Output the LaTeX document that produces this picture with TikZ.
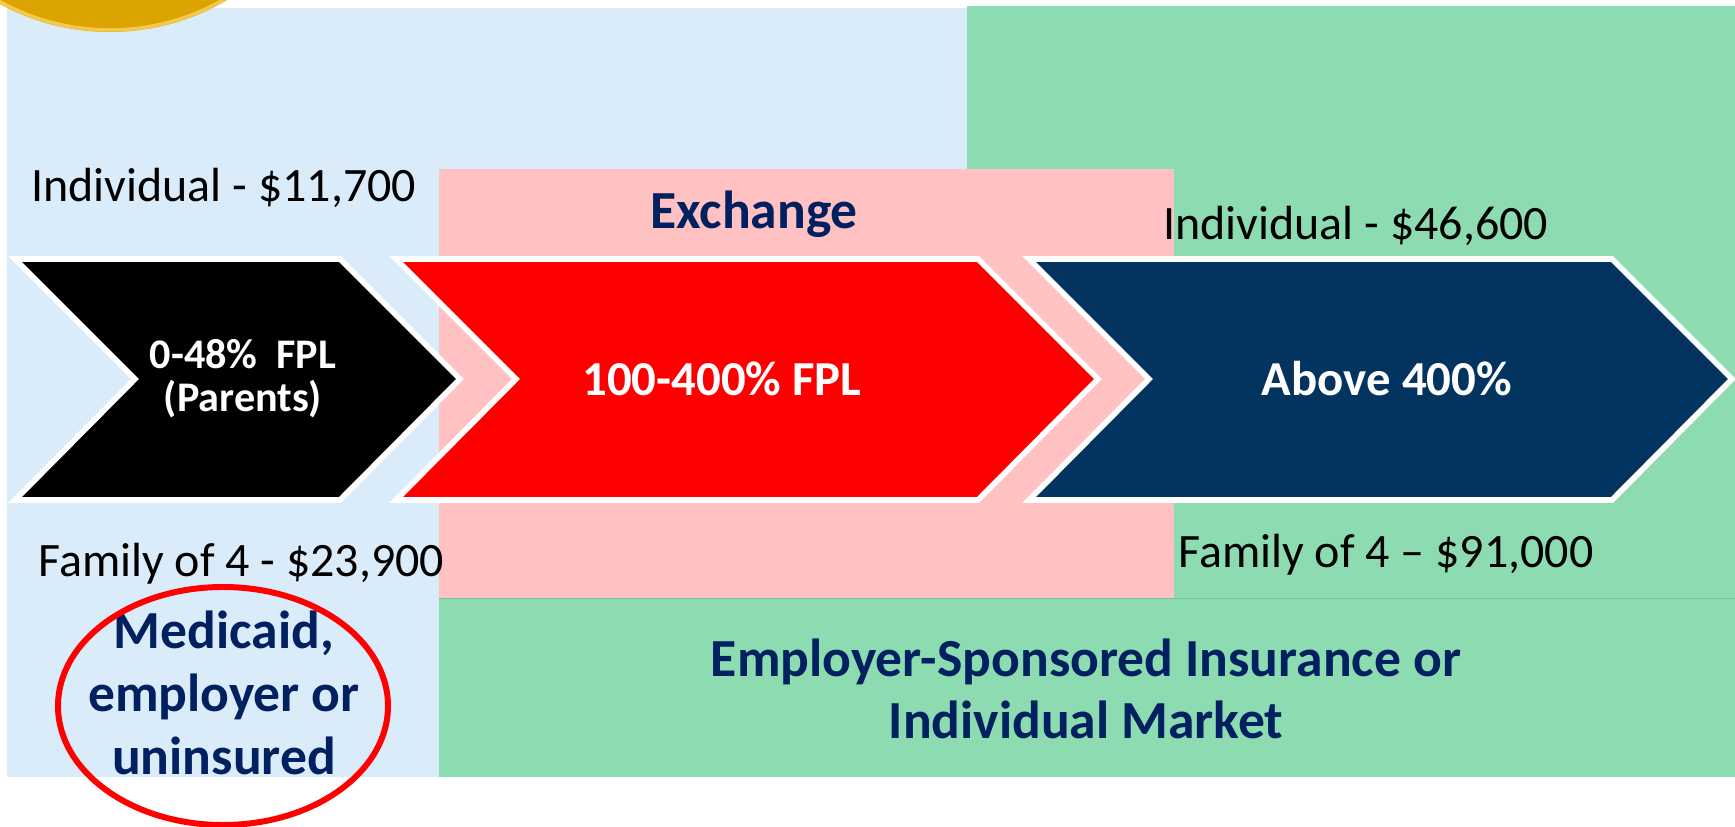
\documentclass[tikz,border=0pt]{standalone}
\usepackage{fontspec}
\setmainfont{Carlito}

\definecolor{skyback}{HTML}{DAEBFA}
\definecolor{pinkback}{HTML}{FFC1C1}
\definecolor{greenback}{HTML}{8DDBB1}
\definecolor{greenline}{HTML}{6FC894}
\definecolor{navyarrow}{HTML}{03335F}
\definecolor{navytext}{HTML}{002060}
\definecolor{goldcoin}{HTML}{DCA400}
\definecolor{goldrim}{HTML}{F2C94A}

\tikzset{
	chevron/.style = {draw = white, line width = 3.2pt, line join = miter},
	amount/.style = {anchor = base west, inner sep = 0pt, font = \fontsize{27.3}{33}\selectfont},
	bandtext/.style = {text = navytext, inner sep = 0pt, align = center, font = \bfseries\fontsize{30.5}{35.5}\selectfont},
	arrowtext/.style = {text = white, inner sep = 0pt, align = center, font = \bfseries\fontsize{27.8}{29}\selectfont}
}

\begin{document}
\begin{tikzpicture}[x = 0.02cm, y = -0.02cm]
					\useasboundingbox (0, 0) rectangle (1735, 827);
					\fill [skyback] (7, 8) rectangle (967, 777);
					\fill [greenback] (967, 6) rectangle (1735, 598);
					\fill [pinkback] (439, 169) rectangle (1174, 598);
					\fill [greenback] (439, 598) rectangle (1735, 777);
					\draw [greenline, thin] (439, 598) -- (1735, 598);
					\fill [goldcoin] (110, -198) circle (230);
					\draw [goldrim, line width = 2pt] (110, -198) circle (228);
					\draw [chevron, fill = black] (15, 259) -- (340, 259) -- (460, 379) -- (340, 500) -- (15, 500) -- (135, 379) -- cycle;
					\draw [chevron, fill = red] (396, 259) -- (978, 259) -- (1098, 379) -- (978, 500) -- (396, 500) -- (516, 379) -- cycle;
					\draw [chevron, fill = navyarrow] (1029, 259) -- (1612, 259) -- (1732, 379) -- (1612, 500) -- (1029, 500) -- (1149, 379) -- cycle;
					\node (parents) at (243, 379) [arrowtext, font = \bfseries\fontsize{24}{24.5}\selectfont] {0-48\%\ \ FPL\\(Parents)};
					\node (exchangefpl) at (722, 379) [arrowtext] {100-400\% FPL};
					\node (above) at (1387, 379) [arrowtext] {Above 400\%};
					\node (indivlow) at (31, 202) [amount] {Individual - \$11,700};
					\node (familylow) at (38, 576) [amount] {Family of 4 - \$23,900};
					\node (indivhigh) at (1163, 240) [amount] {Individual - \$46,600};
					\node (familyhigh) at (1178, 567) [amount] {Family of 4 -- \$91,000};
					\node (exchange) at (754, 229) [bandtext, anchor = base] {Exchange};
					\node (employer) at (1086, 689) [bandtext] {Employer-Sponsored Insurance or\\Individual Market};
					\node (medicaid) at (224, 693) [bandtext, font = \bfseries\fontsize{30.5}{36}\selectfont] {Medicaid,\\employer or\\uninsured};
					\draw [red, line width = 3.4pt] (223, 706) ellipse [x radius = 165, y radius = 119];
				\end{tikzpicture}
\end{document}
